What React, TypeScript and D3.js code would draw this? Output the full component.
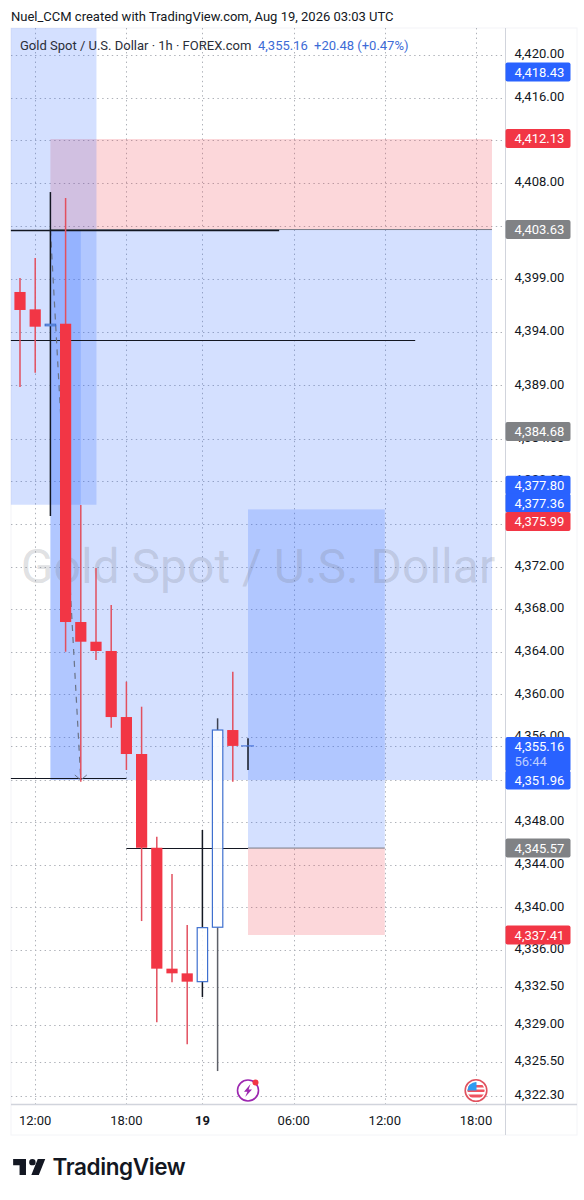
import React from "react";
import * as d3 from "d3";

// ---------- data ----------
const candleOpen = [4397.77,4396.14,4394.6,4394.79,4366.79,4364.94,4364.07,4357.87,4354.4,4345.6,4334.25,4333.81,4333.03,4338.14,4356.65,4355.16];
const candleClose = [4396.08,4394.51,4394.74,4366.79,4364.94,4364.07,4357.87,4354.4,4345.6,4334.25,4333.81,4333.03,4338.1,4356.65,4355.16,4355.16];
const candleHigh = [4399.08,4400.96,4407.15,4406.59,4377.77,4371.86,4368.39,4361.19,4358.84,4346.64,4343.14,4338.35,4347.27,4357.75,4362.13,4355.87];
const candleLow = [4388.85,4390.19,4376.74,4364.0,4351.8,4363.22,4356.87,4352.9,4338.72,4329.21,4332.97,4327.15,4331.59,4324.64,4351.8,4352.9];

const gridTicks = [4420,4416,4412,4408,4404,4399,4394,4389,4384,4380,4376,4372,4368,4364,4360,4356,4352,4348,4344,4340,4336,4332.5,4329,4325.5,4322.3];
const timeIdx = [1,7,12,18,24,30];
const timeLabels = ["12:00","18:00","19","06:00","12:00","18:00"];

// price tag: value, kind, nudge of the tag from its true price so that tags do not overlap
const tagValues = [4418.43,4412.13,4403.63,4384.68,4377.80,4377.36,4375.99,4355.16,4351.96,4345.57,4337.41];
const tagKinds = ["blue","red","gray","gray","blue","blue","red","blue","blue","gray","red"];
const tagNudge = [0,-0.5,0,0,-19.5,-6.5,-2.5,0,0,0,0];

const BLUE = "#2962ff", RED = "#f23645", GRAY = "#808285", INK = "#131722";
const kindColor: Record<string, string> = { blue: BLUE, red: RED, gray: GRAY };

const W = 584, H = 1200;
const L = 11, AX = 505, R = 577, T = 28, XB = 1104, B = 1135;

const y = d3.scaleLinear().domain([4412.13, 4337.41]).range([139, 935]);
const x = d3.scaleLinear().domain([0, 30]).range([20, 476]);
const fmt = d3.format(",.2f");

// drawings, in bar index and price
const zoneFill = "rgba(41,98,255,0.2)";
const redFill = "rgba(242,54,69,0.2)";
const blueZones = [
  { x0: -0.6, x1: 5.03, top: 4422.7, bot: 4377.8 },
  { x0: 2.0, x1: 31.05, top: 4403.63, bot: 4351.96 },
  { x0: 2.0, x1: 4.0, top: 4403.63, bot: 4351.96 },
  { x0: 15, x1: 24, top: 4377.36, bot: 4345.57 },
];
const redZones = [
  { x0: 2.0, x1: 31.05, top: 4412.13, bot: 4403.63 },
  { x0: 15, x1: 24, top: 4345.57, bot: 4337.41 },
];
const rays = [
  { x0: -0.6, x1: 17.05, v: 4403.55 },
  { x0: -0.6, x1: 26, v: 4393.26 },
  { x0: -0.6, x1: 7, v: 4352.15 },
  { x0: 7, x1: 15, v: 4345.57 },
];
const arrowIdx = [2, 4];
const arrowVal = [4403.63, 4351.96];

function PriceTag({ value, kind, nudge, extra }: { value: number; kind: string; nudge: number; extra?: boolean }) {
  const cy = y(value) + nudge;
  const h = extra ? 34.5 : 19;
  const top = extra ? cy - 9 : cy - 9.5;
  return (
    <g>
      <rect x={AX + 0.5} y={top} width={65} height={h} rx={2} fill={kindColor[kind]} />
      <text x={539.5} y={cy} dy="0.36em" textAnchor="middle" fontSize={13} fill="#fff">{fmt(value)}</text>
      {extra && <text x={514.5} y={cy + 15.5} dy="0.36em" fontSize={13} fill="rgba(255,255,255,0.7)">56:44</text>}
    </g>
  );
}

export default function App() {
  const font = "Roboto, sans-serif";
  const arrow = d3.line<number>().x((_, i) => x(arrowIdx[i])).y((_, i) => y(arrowVal[i]))(arrowIdx) as string;
  const tipX = x(arrowIdx[1]), tipY = y(arrowVal[1]);
  return (
    <svg width={W} height={H} viewBox={`0 0 ${W} ${H}`} fontFamily={font}
      style={{ position: "absolute", left: 0, top: 0, background: "#fff" }}>
      <text x={11} y={21} fontSize={13} fill={INK}>Nuel_CCM created with TradingView.com, Aug 19, 2026 03:03 UTC</text>

      <rect x={L} y={T} width={R - L} height={B - T} fill="#fff" stroke="#f3f4f7" />

      {/* grid */}
      <g stroke="#8f949e" strokeWidth={1} strokeDasharray="1.4 3.4" opacity={0.72}>
        {gridTicks.map((t) => <line key={t} x1={L} x2={AX} y1={Math.round(y(t)) + 0.5} y2={Math.round(y(t)) + 0.5} />)}
        {timeIdx.map((i) => <line key={i} x1={Math.round(x(i)) + 0.5} x2={Math.round(x(i)) + 0.5} y1={T} y2={XB} />)}
        <line x1={L} x2={AX} y1={Math.round(y(4355.16)) + 0.5} y2={Math.round(y(4355.16)) + 0.5} />
      </g>

      {/* zones */}
      {redZones.map((z, i) => (
        <rect key={i} x={x(z.x0)} width={x(z.x1) - x(z.x0)} y={y(z.top)} height={y(z.bot) - y(z.top)} fill={redFill} />
      ))}
      {blueZones.map((z, i) => (
        <rect key={i} x={x(z.x0)} width={x(z.x1) - x(z.x0)} y={Math.max(T, y(z.top))} height={y(z.bot) - Math.max(T, y(z.top))} fill={zoneFill} />
      ))}

      <text x={258} y={566} dy="0.36em" textAnchor="middle" fontSize={48} fill="rgba(120,123,134,0.24)">Gold Spot / U.S. Dollar</text>

      {/* horizontal rays */}
      <line x1={x(2)} x2={x(31.05)} y1={y(4403.63)} y2={y(4403.63)} stroke="#787b86" strokeWidth={1} />
      <line x1={x(15)} x2={x(24)} y1={y(4345.57)} y2={y(4345.57)} stroke="#787b86" strokeWidth={1} />
      {rays.map((r, i) => {
        const ry = Math.round(y(r.v)) + 0.5;
        return <line key={i} x1={x(r.x0)} x2={x(r.x1)} y1={ry} y2={ry} stroke="#131722" strokeWidth={i === 0 ? 1.5 : 1.2} />;
      })}

      {/* dashed arrow */}
      <path d={arrow} fill="none" stroke="#6b7487" strokeWidth={1.2} strokeDasharray="6 6" />
      <path d={`M${tipX - 6},${tipY - 5}L${tipX},${tipY}L${tipX + 6},${tipY - 5}`} fill="none" stroke="#6b7487" strokeWidth={1} />

      {/* candles */}
      {candleOpen.map((o, i) => {
        const c = candleClose[i];
        const up = c >= o;
        const cx = x(i);
        const top = y(Math.max(o, c)), bot = y(Math.min(o, c));
        if (!up) {
          return (
            <g key={i}>
              <line x1={cx} x2={cx} y1={y(candleHigh[i])} y2={y(candleLow[i])} stroke="#e2505f" strokeWidth={1.5} />
              <rect x={cx - 5.6} width={11.2} y={top} height={Math.max(bot - top, 1)} fill={RED} />
            </g>
          );
        }
        return (
          <g key={i}>
            <line x1={cx} x2={cx} y1={y(candleHigh[i])} y2={top} stroke={i === 13 ? "#3d4250" : "#131722"} strokeWidth={1.5} />
            <line x1={cx} x2={cx} y1={bot} y2={y(candleLow[i])} stroke={i === 13 ? "#5d6068" : "#131722"} strokeWidth={1.5} />
            {i < 15 && <rect x={cx - 5.2} width={10.4} y={top} height={Math.max(bot - top, 1.5)} fill="rgba(255,255,255,0.86)" stroke="#3f70cf" strokeWidth={1.2} />}
            {i === 15 && <line x1={cx - 7} x2={cx + 6} y1={top} y2={top} stroke="#4a76d9" strokeWidth={1.2} />}
          </g>
        );
      })}

      {/* legend */}
      <text x={20} y={50} fontSize={13} fill="#2a2e39">Gold Spot / U.S. Dollar · 1h · FOREX.com</text>
      <text x={258} y={50} fontSize={13} fill="#3c6bd6">4,355.16</text>
      <text x={314} y={50} fontSize={13} fill="#3c6bd6">+20.48 (+0.47%)</text>

      {/* event icons */}
      <g transform={`translate(${x(15)},1090.5)`}>
        <circle r={10.5} fill="#fff" stroke="#9c27b0" strokeWidth={1.6} />
        <path d="M2.5,-6.5L-4,1.2H-0.6L-2.8,6.5L4,-1H0.6Z" fill="#9c27b0" />
        <circle cx={7.5} cy={-8} r={3} fill={RED} />
      </g>
      <g transform={`translate(${x(30)},1090.5)`}>
        <clipPath id="flagClip"><circle r={8.6} /></clipPath>
        <circle r={10.8} fill="#fff" stroke="#e0525f" strokeWidth={1.6} />
        <g clipPath="url(#flagClip)">
          <rect x={-9} y={-9} width={18} height={18} fill="#fff" />
          <rect x={-9} y={-5.5} width={18} height={2.5} fill="#ef5360" />
          <rect x={-9} y={-1} width={18} height={2.5} fill="#ef5360" />
          <rect x={-9} y={4} width={18} height={3} fill="#ef5360" />
          <rect x={-9} y={-9} width={9.5} height={9} fill="#2f9bf0" />
        </g>
      </g>

      {/* axes */}
      <line x1={AX + 0.5} x2={AX + 0.5} y1={T} y2={B} stroke="#d1d4dc" />
      <line x1={L} x2={R} y1={XB + 0.5} y2={XB + 0.5} stroke="#d1d4dc" strokeWidth={1.5} />
      {gridTicks.map((t) => (
        <text key={t} x={514.5} y={y(t) - 1.5} dy="0.36em" fontSize={13} fill={INK}>{fmt(t)}</text>
      ))}
      {timeIdx.map((i, k) => (
        <text key={i} x={x(i)} y={1120} dy="0.36em" textAnchor="middle" fontSize={13} fontWeight={timeLabels[k] === "19" ? 700 : 400} fill={INK}>{timeLabels[k]}</text>
      ))}
      {tagValues.map((v, i) => (
        <PriceTag key={v} value={v} kind={tagKinds[i]} nudge={tagNudge[i]} extra={v === 4355.16} />
      ))}

      {/* brand */}
      <g transform="translate(11,1152.5) scale(1.07)">
        <path fill="#131722" d="M14 6H2v6h6v9h6V6Zm12 15h-7l6-15h7l-6 15Zm-6-9a3 3 0 1 0 0-6 3 3 0 0 0 0 6Z" />
      </g>
      <text x={52.5} y={1175} fontSize={22.5} fontWeight={600} fontFamily="Inter, Roboto, sans-serif" fill="#131722" letterSpacing={-0.4}>TradingView</text>
    </svg>
  );
}
